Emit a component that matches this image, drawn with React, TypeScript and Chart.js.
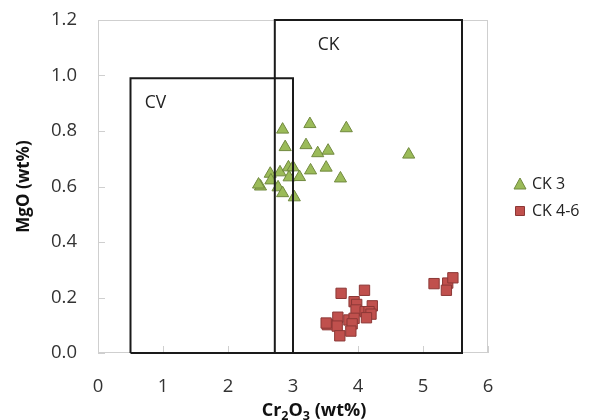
import React, { useEffect, useRef } from 'react';
import { Chart, registerables } from 'chart.js';

Chart.register(...registerables);

// CK 3 (triangles)
const ck3X = [2.84, 3.26, 3.82, 2.88, 3.2, 3.38, 3.54, 4.78, 2.65, 2.8, 2.93, 3.0, 2.94, 3.1, 3.27, 3.51, 3.73, 2.5, 2.47, 2.66, 2.77, 2.84, 3.02];
const ck3Y = [0.805, 0.825, 0.81, 0.742, 0.749, 0.72, 0.729, 0.715, 0.646, 0.651, 0.669, 0.669, 0.633, 0.634, 0.658, 0.668, 0.629, 0.6, 0.607, 0.622, 0.597, 0.576, 0.561];

// CK 4-6 (squares)
const ck46X = [3.74, 4.1, 5.17, 5.38, 5.46, 5.36, 3.94, 3.98, 3.97, 4.22, 4.11, 4.17, 4.2, 4.13, 3.69, 3.53, 3.51, 3.68, 3.86, 3.94, 3.91, 3.89, 3.72];
const ck46Y = [0.215, 0.226, 0.25, 0.252, 0.271, 0.226, 0.185, 0.175, 0.155, 0.17, 0.149, 0.149, 0.14, 0.127, 0.129, 0.102, 0.108, 0.097, 0.119, 0.125, 0.105, 0.079, 0.062];

// Field boxes
const cvBoxX = [0.5, 3.0];
const cvBoxY = [0, 0.99];
const ckBoxX = [2.72, 5.6];
const ckBoxY = [0, 1.2];

const xTicks = [0, 1, 2, 3, 4, 5, 6];
const yTicks = [0, 0.2, 0.4, 0.6, 0.8, 1.0, 1.2];

const seriesNames = ['CK 3', 'CK 4-6'];
const fieldLabels = [
  { text: 'CV', x: 0.72, y: 0.9 },
  { text: 'CK', x: 3.38, y: 1.11 },
];

const FONT = "'Open Sans', sans-serif";
const GREEN = '#9BBB59';
const GREEN_B = '#71893F';
const RED = '#C0504D';
const RED_B = '#8C3836';

function boxPoints(bx: number[], by: number[]) {
  return [
    { x: bx[0], y: by[0] },
    { x: bx[1], y: by[0] },
    { x: bx[1], y: by[1] },
    { x: bx[0], y: by[1] },
    { x: bx[0], y: by[0] },
  ];
}

const decorPlugin = {
  id: 'decor',
  beforeDatasetsDraw(chart: any) {
    const { ctx, chartArea: a, scales } = chart;
    ctx.save();
    ctx.strokeStyle = '#CFCFCF';
    ctx.lineWidth = 1;
    ctx.strokeRect(a.left + 0.5, a.top + 0.5, a.right - a.left - 1, a.bottom - a.top - 1);
    ctx.beginPath();
    xTicks.forEach((v) => {
      const px = Math.round(scales.x.getPixelForValue(v)) + 0.5;
      ctx.moveTo(px, a.bottom);
      ctx.lineTo(px, a.bottom - 7);
    });
    yTicks.forEach((v) => {
      const py = Math.round(scales.y.getPixelForValue(v)) + 0.5;
      ctx.moveTo(a.left, py);
      ctx.lineTo(a.left + 7, py);
    });
    ctx.stroke();
    ctx.restore();
  },
  afterDatasetsDraw(chart: any) {
    const { ctx, scales } = chart;
    ctx.save();
    ctx.fillStyle = '#222';
    ctx.font = `17.5px ${FONT}`;
    ctx.textBaseline = 'middle';
    ctx.textAlign = 'left';
    fieldLabels.forEach((l) => {
      ctx.fillText(l.text, scales.x.getPixelForValue(l.x), scales.y.getPixelForValue(l.y));
    });
    ctx.restore();
  },
  afterDraw(chart: any) {
    const { ctx } = chart;
    ctx.save();
    // legend
    const lx = 520;
    const ly = [184, 211];
    ctx.font = `16px ${FONT}`;
    ctx.textBaseline = 'middle';
    ctx.textAlign = 'left';
    // triangle
    ctx.fillStyle = GREEN;
    ctx.strokeStyle = GREEN_B;
    ctx.lineWidth = 1;
    ctx.beginPath();
    ctx.moveTo(lx, ly[0] - 6);
    ctx.lineTo(lx + 6, ly[0] + 5);
    ctx.lineTo(lx - 6, ly[0] + 5);
    ctx.closePath();
    ctx.fill();
    ctx.stroke();
    ctx.fillStyle = '#222';
    ctx.fillText(seriesNames[0], lx + 12, ly[0]);
    // square
    ctx.fillStyle = RED;
    ctx.strokeStyle = RED_B;
    ctx.beginPath();
    ctx.rect(lx - 4.5, ly[1] - 4.5, 9, 9);
    ctx.fill();
    ctx.stroke();
    ctx.fillStyle = '#222';
    ctx.fillText(seriesNames[1], lx + 12, ly[1]);

    // x title with subscripts
    ctx.fillStyle = '#111';
    ctx.textBaseline = 'alphabetic';
    const big = `bold 18px ${FONT}`;
    const small = `bold 12.5px ${FONT}`;
    const parts = [
      { t: 'Cr', f: big, dy: 0 },
      { t: '2', f: small, dy: 4 },
      { t: 'O', f: big, dy: 0 },
      { t: '3', f: small, dy: 4 },
      { t: ' (wt%)', f: big, dy: 0 },
    ];
    let total = 0;
    parts.forEach((p) => {
      ctx.font = p.f;
      total += ctx.measureText(p.t).width;
    });
    let x = 314 - total / 2;
    const base = 416;
    parts.forEach((p) => {
      ctx.font = p.f;
      ctx.fillText(p.t, x, base + p.dy);
      x += ctx.measureText(p.t).width;
    });
    ctx.restore();
  },
};

export default function App() {
  const ref = useRef<HTMLCanvasElement>(null);
  useEffect(() => {
    if (!ref.current) return;
    const chart = new Chart(ref.current, {
      type: 'scatter',
      data: {
        datasets: [
          {
            label: 'CV field',
            data: boxPoints(cvBoxX, cvBoxY),
            showLine: true,
            borderColor: '#1a1a1a',
            borderWidth: 2,
            pointRadius: 0,
            tension: 0,
            fill: false,
            clip: false as any,
          },
          {
            label: 'CK field',
            data: boxPoints(ckBoxX, ckBoxY),
            showLine: true,
            borderColor: '#1a1a1a',
            borderWidth: 2,
            pointRadius: 0,
            tension: 0,
            fill: false,
            clip: false as any,
          },
          {
            label: seriesNames[0],
            data: ck3X.map((x, i) => ({ x, y: ck3Y[i] })),
            pointStyle: 'triangle',
            pointRadius: 7,
            backgroundColor: GREEN,
            borderColor: GREEN_B,
            borderWidth: 1,
          },
          {
            label: seriesNames[1],
            data: ck46X.map((x, i) => ({ x, y: ck46Y[i] })),
            pointStyle: 'rect',
            pointRadius: 7.3,
            backgroundColor: RED,
            borderColor: RED_B,
            borderWidth: 1,
          },
        ],
      },
      options: {
        animation: false,
        responsive: false,
        layout: { padding: { left: 0, top: 20, right: 101, bottom: 0 } },
        plugins: { legend: { display: false }, tooltip: { enabled: false } },
        scales: {
          x: {
            type: 'linear',
            min: 0,
            max: 6,
            afterFit: (s: any) => {
              s.height = 67;
              s.paddingLeft = 0;
              s.paddingRight = 0;
            },
            afterBuildTicks: (s: any) => {
              s.ticks = xTicks.map((v) => ({ value: v }));
            },
            grid: { display: false, drawTicks: false },
            border: { display: false },
            ticks: {
              padding: 23,
              color: '#333',
              font: { family: FONT, size: 18.5 },
              callback: (v: any) => String(v),
            },
          },
          y: {
            type: 'linear',
            min: 0,
            max: 1.2,
            afterFit: (s: any) => {
              s.width = 98;
              s.paddingTop = 0;
              s.paddingBottom = 0;
            },
            afterBuildTicks: (s: any) => {
              s.ticks = yTicks.map((v) => ({ value: v }));
            },
            grid: { display: false, drawTicks: false },
            border: { display: false },
            ticks: {
              padding: 21,
              color: '#333',
              font: { family: FONT, size: 18.5 },
              callback: (v: any) => Number(v).toFixed(1),
            },
            title: {
              display: true,
              text: 'MgO (wt%)',
              color: '#111',
              font: { family: FONT, size: 17, weight: 'bold' },
              padding: { top: 14, bottom: 0 },
            },
          },
        },
      },
      plugins: [decorPlugin],
    });
    return () => chart.destroy();
  }, []);
  return (
    <div style={{ position: 'absolute', left: 0, top: 0, width: 589, height: 420 }}>
      <canvas ref={ref} width={589} height={420} />
    </div>
  );
}
